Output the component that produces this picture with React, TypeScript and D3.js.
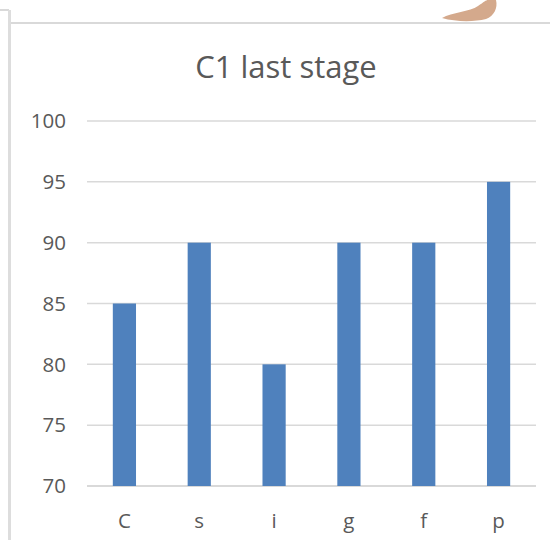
import React from 'react';
import * as d3 from 'd3';

const categories = ['C', 's', 'i', 'g', 'f', 'p'];
const values = [85, 90, 80, 90, 90, 95];
const yTicks = [70, 75, 80, 85, 90, 95, 100];
const title = 'C1 last stage';

const W = 550;
const H = 540;
const plot = {left: 87, right: 536, top: 121, bottom: 486};
const textColor = '#595959';
const barColor = '#4F81BD';
const gridColor = '#D9D9D9';
const font = '"Open Sans", "Liberation Sans", sans-serif';

const App = () => {
  const x = d3
    .scaleBand<string>()
    .domain(categories)
    .range([plot.left, plot.right])
    .paddingInner(0.69)
    .paddingOuter(0.345);

  const y = d3.scaleLinear().domain([70, 100]).range([plot.bottom, plot.top]);

  return (
    <div style={{position: 'absolute', left: 0, top: 0}}>
      <svg width={W} height={H} style={{display: 'block', background: '#fff'}}>
        {/* outer frame bits */}
        <line x1={0} x2={9} y1={10} y2={10} stroke="#D9D9D9" strokeWidth={2} />
        <line x1={9.5} x2={9.5} y1={10} y2={H} stroke="#DDDDDD" strokeWidth={3} />
        <line x1={11} x2={W} y1={23} y2={23} stroke="#D9D9D9" strokeWidth={2} />
        <path
          d="M442,18 C452,12 470,12 478,6 C484,2 486,0 488,0 L496,0 C498,8 494,16 486,19 C474,22 456,22 442,18 Z"
          fill="#D4A98C"
        />

        <text
          x={286}
          y={78}
          textAnchor="middle"
          fontFamily={font}
          fontSize={31}
          fill={textColor}>
          {title}
        </text>

        {yTicks.map(t => (
          <g key={t}>
            <line
              x1={plot.left}
              x2={plot.right}
              y1={y(t)}
              y2={y(t)}
              stroke={gridColor}
              strokeWidth={t === 70 ? 2 : 1.5}
            />
            <text
              x={66}
              y={y(t)}
              dy="0.35em"
              textAnchor="end"
              fontFamily={font}
              fontSize={20.5}
              fill={textColor}>
              {t}
            </text>
          </g>
        ))}

        {categories.map((c, i) => (
          <rect
            key={c}
            x={x(c)}
            y={y(values[i])}
            width={x.bandwidth()}
            height={y(70) - y(values[i])}
            fill={barColor}
          />
        ))}

        {categories.map(c => (
          <text
            key={c}
            x={(x(c) as number) + x.bandwidth() / 2}
            y={521}
            dy="0.35em"
            textAnchor="middle"
            fontFamily={font}
            fontSize={20.5}
            fill={textColor}>
            {c}
          </text>
        ))}
      </svg>
    </div>
  );
};

export default App;
